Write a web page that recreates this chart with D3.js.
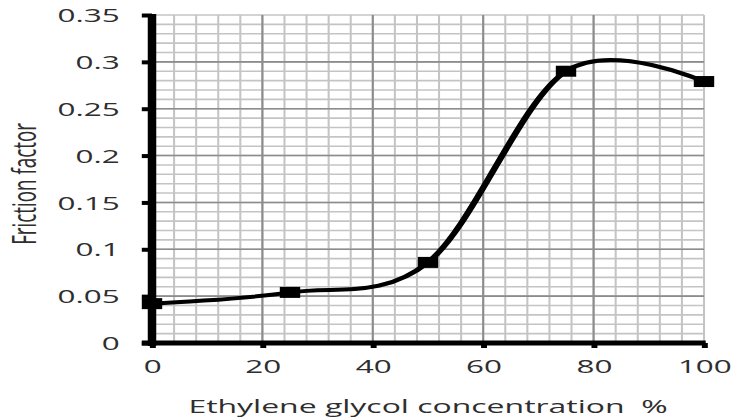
<!DOCTYPE html>
<html>
<head>
<meta charset="utf-8">
<script src="https://cdn.jsdelivr.net/npm/d3@7"></script>
<style>
html,body{margin:0;padding:0;background:#fff;}
svg{display:block;}
text{font-family:"Open Sans",sans-serif;fill:#2e2e2e;}
</style>
</head>
<body>
<svg id="chart" width="732" height="419"></svg>
<script>
// ---- data ----
const concentration = [0, 25, 50, 75, 100];
const frictionFactor = [0.042, 0.054, 0.086, 0.290, 0.279];
const xTicks = [0, 20, 40, 60, 80, 100];
const yTicks = [0, 0.05, 0.1, 0.15, 0.2, 0.25, 0.3, 0.35];
const yTickLabels = ["0", "0.05", "0.1", "0.15", "0.2", "0.25", "0.3", "0.35"];
const xTitle = "Ethylene glycol concentration  %";
const yTitle = "Friction factor";

// ---- layout (image is horizontally stretched) ----
const SX = 1.7;
const plotL = 152 / SX, plotR = 704 / SX, plotT = 15, plotB = 343;
const tickFont = 18.5, titleFont = 18.8;

const svg = d3.select("#chart");
const g = svg.append("g").attr("transform", `scale(${SX},1)`);

const x = d3.scaleLinear().domain([0, 100]).range([plotL, plotR]);
const y = d3.scaleLinear().domain([0, 0.35]).range([plotB, plotT]);

// minor grid
const xMinor = d3.range(0, 100.001, 4);
const yMinor = d3.range(0, 0.3501, 0.01);
g.append("g").selectAll("line").data(xMinor).join("line")
  .attr("x1", d => x(d)).attr("x2", d => x(d))
  .attr("y1", plotT).attr("y2", plotB)
  .attr("stroke", "#c4c4c4").attr("stroke-width", 1.2);
g.append("g").selectAll("line").data(yMinor).join("line")
  .attr("x1", plotL).attr("x2", plotR)
  .attr("y1", d => y(d)).attr("y2", d => y(d))
  .attr("stroke", "#c4c4c4").attr("stroke-width", 1.6);
// major grid
g.append("g").selectAll("line").data(xTicks.filter(d => d > 0 && d < 100)).join("line")
  .attr("x1", d => x(d)).attr("x2", d => x(d))
  .attr("y1", plotT).attr("y2", plotB)
  .attr("stroke", "#8c8c8c").attr("stroke-width", 1.2);
g.append("g").selectAll("line").data(yTicks.filter(d => d > 0 && d < 0.35)).join("line")
  .attr("x1", plotL).attr("x2", plotR)
  .attr("y1", d => y(d)).attr("y2", d => y(d))
  .attr("stroke", "#8c8c8c").attr("stroke-width", 1.6);

// axes
const yAxis = d3.axisLeft(y).tickValues(yTicks).tickFormat((d, i) => yTickLabels[i]).tickSize(6).tickPadding(13);
const yG = g.append("g").attr("transform", `translate(${plotL},0)`).call(yAxis);
yG.select(".domain").attr("stroke", "#000").attr("stroke-width", 5).attr("d", `M0,${plotT - 1}V${plotB + 3}`);
yG.selectAll(".tick line").attr("stroke", "#000").attr("stroke-width", 4);
yG.selectAll(".tick text").attr("font-size", tickFont).attr("fill", "#2e2e2e").attr("font-family", '"Open Sans",sans-serif').attr("dy", "0.36em");

const xAxis = d3.axisBottom(x).tickValues(xTicks).tickFormat(d3.format("d")).tickSize(5).tickPadding(12);
const xG = g.append("g").attr("transform", `translate(0,${plotB})`).call(xAxis);
xG.select(".domain").attr("stroke", "#000").attr("stroke-width", 5).attr("d", `M${plotL - 6},0H${plotR + 1}`);
xG.selectAll(".tick line").attr("stroke", "#000").attr("stroke-width", 3.5);
xG.selectAll(".tick text").attr("font-size", tickFont).attr("fill", "#2e2e2e").attr("font-family", '"Open Sans",sans-serif');

// smoothed line
const pts = concentration.map((c, i) => [c, frictionFactor[i]]);
const line = d3.line().x(d => x(d[0])).y(d => y(d[1])).curve(d3.curveCardinal.tension(0));
g.append("path").datum(pts).attr("d", line)
  .attr("fill", "none").attr("stroke", "#000").attr("stroke-width", 4).attr("stroke-linejoin", "round");

// markers
const ms = 12;
g.append("g").selectAll("rect").data(pts).join("rect")
  .attr("x", d => x(d[0]) - ms / 2).attr("y", d => y(d[1]) - ms / 2 + 0.5)
  .attr("width", ms).attr("height", ms - 1).attr("fill", "#000");

// titles
g.append("text").attr("x", (plotL + plotR) / 2).attr("y", 413)
  .attr("text-anchor", "middle").attr("font-size", titleFont)
  .style("white-space", "pre").text(xTitle);
g.append("text").attr("transform", `translate(${36 / SX},184) rotate(-90)`)
  .attr("text-anchor", "middle").attr("font-size", titleFont).text(yTitle);
</script>
</body>
</html>
